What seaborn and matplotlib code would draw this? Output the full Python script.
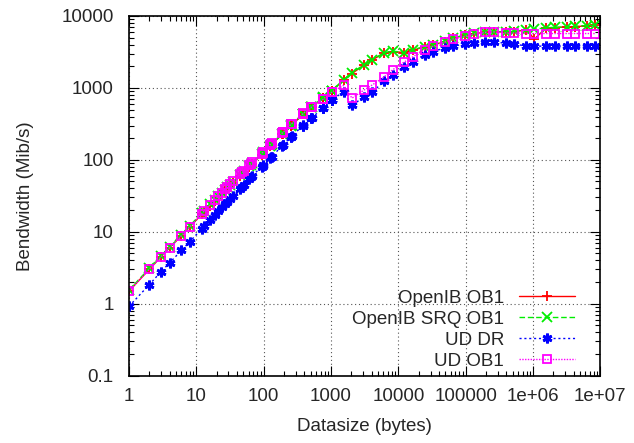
import numpy as np
import pandas as pd
import seaborn as sns
import matplotlib.pyplot as plt
from matplotlib.ticker import FixedLocator, FixedFormatter, LogLocator, NullFormatter

# ------------------------------
# DATA
# ------------------------------

datasize = [1, 2, 3, 4, 6, 8, 12,
            13, 16, 19, 21, 24, 27, 29, 32, 35, 45, 48, 51, 61, 64, 67,
            93, 96, 99, 125, 128, 131, 189, 192, 195, 253, 256, 259,
            381, 384, 387, 509, 512, 515, 765, 768, 771, 1021, 1024, 1027,
            1536, 2048, 3072, 4096, 6144, 8192, 12288, 16384, 24576, 32768,
            49152, 65536, 98304, 131072, 196608, 262144, 393216, 524288,
            786432, 1048576, 1572864, 2097152, 3145728, 4194304, 6291456, 8388608]

openib_ob1 = [1.5, 3.0, 4.5, 6.0, 8.8, 11.7, 17.5,
              19, 23, 27, 30, 33, 37, 40, 43, 47, 60, 64, 68, 80, 84, 88,
              118, 122, 126, 156, 160, 164, 227, 230, 234, 296, 300, 303,
              427, 430, 433, 537, 540, 543, 717, 720, 723, 897, 900, 903,
              1280, 1580, 2080, 2450, 3050, 3200, 3100, 3350, 3700, 3950,
              4400, 4900, 5400, 5700, 5900, 6000, 6000, 6050,
              6400, 4800, 6800, 6900, 7000, 7100, 7300, 7400]

openib_srq_ob1 = [1.55, 3.1, 4.6, 6.2, 9.1, 12.1, 18.2,
                  19.7, 24, 28, 31, 34.5, 38.5, 41.5, 45, 49, 62, 66, 70, 82, 86, 90,
                  120, 124, 128, 158, 162, 166, 230, 233, 237, 300, 304, 307,
                  432, 435, 438, 545, 548, 551, 730, 733, 736, 910, 915, 918,
                  1300, 1620, 2100, 2480, 3070, 3250, 3100, 3400, 3750, 4000,
                  4450, 4950, 5450, 5750, 5950, 6050, 6050, 6100,
                  6450, 6550, 6850, 6950, 7050, 7200, 7350, 7450]

ud_dr = [0.92, 1.84, 2.8, 3.7, 5.5, 7.3, 11,
         11.9, 14.7, 17.3, 19.2, 22, 24.5, 26.3, 29, 31.5, 39.5, 42, 44.5, 54.5, 57, 59.5,
         80.5, 83, 85.5, 105.5, 108, 110.5, 157.5, 160, 162.5, 207.5, 210, 212.5,
         298, 300, 302, 378, 380, 382, 528, 530, 532, 678, 680, 682,
         880, 570, 750, 880, 1230, 1500, 1960, 2300, 2900, 3200,
         3600, 3800, 4100, 4200, 4300, 4300, 4200, 4100,
         3800, 3800, 3800, 3800, 3800, 3800, 3800, 3800]

ud_ob1 = [1.5, 3.0, 4.5, 6.0, 8.8, 11.7, 17.8,
          19.3, 23.5, 28, 31, 35, 39, 42, 46, 50, 63, 67, 71, 84, 88, 92,
          122, 126, 130, 162, 166, 170, 236, 240, 244, 310, 315, 318,
          435, 440, 443, 535, 540, 543, 695, 700, 703, 865, 870, 873,
          1080, 720, 930, 1100, 1420, 1780, 2300, 2700, 3400, 3800,
          4350, 4800, 5200, 5600, 5900, 6000, 5800, 5800,
          5700, 5700, 5700, 5700, 5700, 5700, 5700, 5700]

series_names = ["OpenIB OB1", "OpenIB SRQ OB1", "UD DR", "UD OB1"]
series_values = [openib_ob1, openib_srq_ob1, ud_dr, ud_ob1]
colors = ["#ff0000", "#00ee00", "#0000ff", "#ff00ff"]
markers = ["+", "x", (6, 2, 0), "s"]
linestyles = ["-", (0, (4, 2)), (0, (1.5, 2)), (0, (1, 1))]

xticks = [1, 10, 100, 1000, 10000, 100000, 1e6, 1e7]
xtick_labels = ["1", "10", "100", "1000", "10000", "100000", "1e+06", "1e+07"]
yticks = [0.1, 1, 10, 100, 1000, 10000]
ytick_labels = ["0.1", "1", "10", "100", "1000", "10000"]

# ------------------------------
# PLOT
# ------------------------------

sns.set_style("ticks")
plt.rcParams["font.family"] = ["Liberation Sans", "DejaVu Sans"]

fig, ax = plt.subplots(figsize=(6.34, 4.43), dpi=100)
fig.subplots_adjust(left=0.2035, right=0.947, top=0.964, bottom=0.152)

for name, vals, c, m, ls in zip(series_names, series_values, colors, markers, linestyles):
    df = pd.DataFrame({"Datasize": datasize, "Bandwidth": vals})
    sns.lineplot(data=df, x="Datasize", y="Bandwidth", ax=ax, estimator=None,
                 color=c, marker=m, linestyle=ls, linewidth=1.0,
                 markersize=7 if m != "s" else 6,
                 markerfacecolor="none" if m == "s" else c,
                 markeredgecolor=c,
                 markeredgewidth=2.0 if name == "UD DR" else 1.3,
                 label=name)

ax.set_xscale("log")
ax.set_yscale("log")
ax.set_xlim(1, 1e7)
ax.set_ylim(0.1, 10000)

ax.xaxis.set_major_locator(FixedLocator(xticks))
ax.xaxis.set_major_formatter(FixedFormatter(xtick_labels))
ax.yaxis.set_major_locator(FixedLocator(yticks))
ax.yaxis.set_major_formatter(FixedFormatter(ytick_labels))
ax.xaxis.set_minor_locator(LogLocator(base=10, subs=np.arange(2, 10), numticks=20))
ax.yaxis.set_minor_locator(LogLocator(base=10, subs=np.arange(2, 10), numticks=20))
ax.xaxis.set_minor_formatter(NullFormatter())
ax.yaxis.set_minor_formatter(NullFormatter())

ax.tick_params(which="both", direction="in", top=True, right=True, color="black")
ax.tick_params(which="major", length=7, width=0.8, labelsize=13.5)
ax.tick_params(axis="y", which="major", pad=11)
ax.tick_params(axis="x", which="major", pad=9)
ax.tick_params(which="minor", length=3.5, width=0.8)
ax.grid(True, which="major", linestyle=(0, (1, 2.5)), color="#555555", linewidth=0.8)
for sp in ax.spines.values():
    sp.set_linewidth(1.2)
    sp.set_color("black")

ax.set_xlabel("Datasize (bytes)", fontsize=13.5, labelpad=9)
ax.set_ylabel("Bendwidth (Mib/s)", fontsize=13.5, labelpad=20)

leg = ax.legend(loc="lower right", bbox_to_anchor=(0.947, 0.017), frameon=False,
                markerfirst=False, fontsize=13.5, handlelength=3.0, handletextpad=0.8,
                labelspacing=0.2, borderaxespad=0, borderpad=0)
# right-align the legend rows (gnuplot style: text right-justified before the sample)
for col in leg._legend_handle_box.get_children():
    col.align = "right"

plt.savefig("out.png", dpi=100)
